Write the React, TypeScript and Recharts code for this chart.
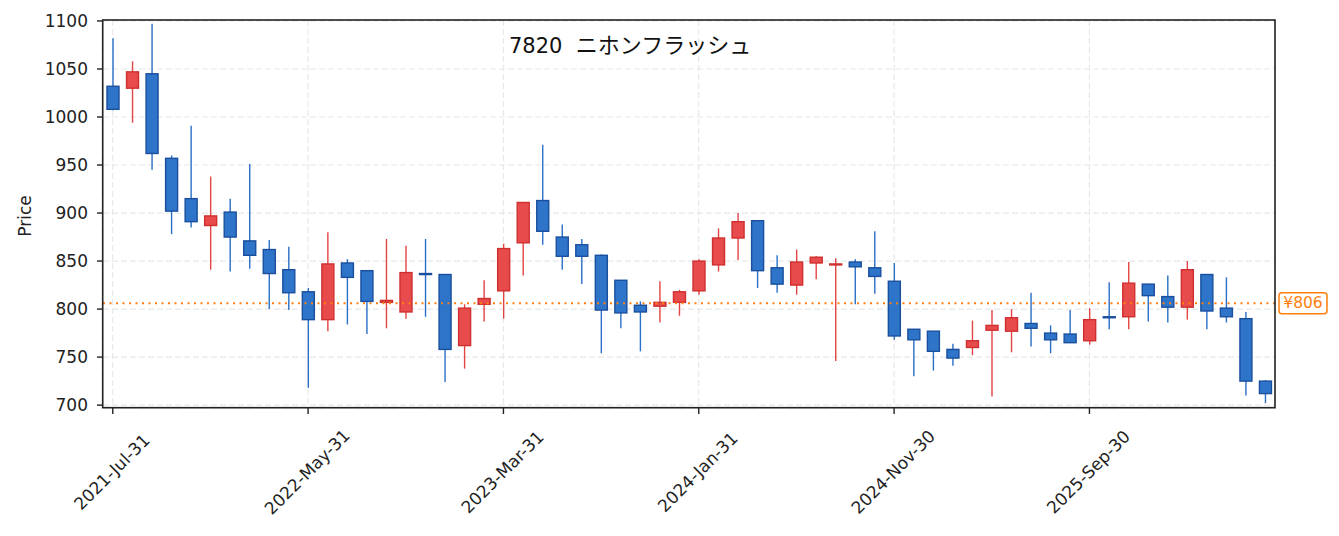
import { Bar, CartesianGrid, ComposedChart, ReferenceLine, XAxis, YAxis } from 'recharts'

// monthly bars, 2021-Jul .. 2026-Jun
const months = [
  '2021-Jul-31', '2021-Aug-31', '2021-Sep-30', '2021-Oct-31', '2021-Nov-30', '2021-Dec-31',
  '2022-Jan-31', '2022-Feb-28', '2022-Mar-31', '2022-Apr-30', '2022-May-31', '2022-Jun-30',
  '2022-Jul-31', '2022-Aug-31', '2022-Sep-30', '2022-Oct-31', '2022-Nov-30', '2022-Dec-31',
  '2023-Jan-31', '2023-Feb-28', '2023-Mar-31', '2023-Apr-30', '2023-May-31', '2023-Jun-30',
  '2023-Jul-31', '2023-Aug-31', '2023-Sep-30', '2023-Oct-31', '2023-Nov-30', '2023-Dec-31',
  '2024-Jan-31', '2024-Feb-29', '2024-Mar-31', '2024-Apr-30', '2024-May-31', '2024-Jun-30',
  '2024-Jul-31', '2024-Aug-31', '2024-Sep-30', '2024-Oct-31', '2024-Nov-30', '2024-Dec-31',
  '2025-Jan-31', '2025-Feb-28', '2025-Mar-31', '2025-Apr-30', '2025-May-31', '2025-Jun-30',
  '2025-Jul-31', '2025-Aug-31', '2025-Sep-30', '2025-Oct-31', '2025-Nov-30', '2025-Dec-31',
  '2026-Jan-31', '2026-Feb-28', '2026-Mar-31', '2026-Apr-30', '2026-May-31', '2026-Jun-30',
]

const opens = [
  1032, 1030, 1045, 957, 915, 887, 901, 871, 862, 841,
  818, 789, 848, 840, 807, 797, 837, 836, 762, 805,
  819, 869, 913, 875, 867, 856, 830, 804, 803, 807,
  819, 846, 874, 892, 843, 825, 848, 846, 849, 843,
  829, 779, 777, 758, 760, 778, 777, 785, 775, 774,
  767, 792, 792, 826, 813, 802, 836, 801, 790, 725,
]
const highs = [
  1082, 1058, 1097, 960, 991, 938, 915, 951, 872, 865,
  822, 880, 852, 840, 873, 866, 873, 836, 805, 830,
  868, 911, 971, 888, 873, 857, 830, 808, 829, 820,
  852, 884, 900, 892, 856, 862, 855, 853, 852, 881,
  848, 779, 777, 764, 788, 799, 800, 817, 783, 799,
  801, 828, 849, 826, 835, 850, 836, 833, 797, 726,
]
const lows = [
  1007, 994, 945, 878, 885, 841, 839, 842, 800, 799,
  718, 777, 784, 774, 780, 790, 792, 724, 738, 787,
  790, 835, 867, 841, 826, 754, 780, 756, 786, 793,
  815, 839, 851, 822, 817, 815, 831, 746, 805, 816,
  768, 730, 736, 741, 752, 709, 755, 761, 754, 765,
  763, 779, 779, 787, 786, 789, 779, 786, 710, 702,
]
const closes = [
  1008, 1047, 962, 902, 891, 897, 875, 856, 837, 817,
  789, 847, 833, 808, 809, 838, 836, 758, 801, 811,
  863, 911, 881, 855, 855, 799, 796, 797, 807, 818,
  850, 874, 891, 840, 826, 849, 854, 847, 844, 834,
  772, 768, 756, 749, 767, 783, 791, 780, 768, 765,
  789, 791, 827, 814, 802, 841, 798, 792, 725, 712,
]

const yTicks = [700, 750, 800, 850, 900, 950, 1000, 1050, 1100]
const refPrice = 806
const code = '7820'
const name = 'ニホンフラッシュ'

const data = months.map((m, i) => ({
  date: m,
  open: opens[i],
  high: highs[i],
  low: lows[i],
  close: closes[i],
}))

const FONT = '"DejaVu Sans", "Noto Sans CJK JP", sans-serif'
const CJK = '"Noto Sans CJK JP", sans-serif'
const UP = { fill: '#e84b4b', edge: '#cf2f2f', wick: '#e34444' }
const DOWN = { fill: '#2e74c8', edge: '#1a4f9e', wick: '#2a6fc6' }

function Candle(props: any) {
  const { x, y, width, height, payload } = props
  const top = Math.min(y, y + height)
  const h = Math.abs(height)
  const { open, close, high, low } = payload
  const toY = (v: number) => top + ((high - v) / (high - low)) * h
  const c = close >= open ? UP : DOWN
  const cx = x + width / 2
  const bTop = toY(Math.max(open, close))
  const bBot = toY(Math.min(open, close))
  return (
    <g>
      <line x1={cx} x2={cx} y1={top} y2={top + h} stroke={c.wick} strokeWidth={1.4} />
      <rect
        x={x}
        y={bTop}
        width={width}
        height={Math.max(bBot - bTop, 1)}
        fill={c.fill}
        stroke={c.edge}
        strokeWidth={1.4}
      />
    </g>
  )
}

function DateTick({ x, y, payload }: any) {
  const cx = x - 1
  const cy = y + 56
  return (
    <text
      x={cx}
      y={cy}
      textAnchor="middle"
      dominantBaseline="central"
      transform={`rotate(-45, ${cx}, ${cy})`}
      fill="#222"
      fontSize={17}
      fontFamily={FONT}
    >
      {payload.value}
    </text>
  )
}

function PriceTag({ viewBox }: any) {
  const bx = viewBox.x + viewBox.width + 4
  const by = viewBox.y
  return (
    <g>
      <rect x={bx} y={by - 10.5} width={48} height={21} rx={3} fill="#fff" stroke="#ff7f0e" strokeWidth={1.5} />
      <text
        x={bx + 24}
        y={by}
        textAnchor="middle"
        dominantBaseline="central"
        fill="#ff7f0e"
        fontSize={15.5}
        fontFamily={FONT}
      >
        ¥{refPrice}
      </text>
    </g>
  )
}

export default function App() {
  return (
    <div style={{ position: 'absolute', left: 0, top: 0, width: 1339, height: 536, background: '#fff' }}>
      <ComposedChart
        width={1339}
        height={536}
        data={data}
        margin={{ top: 20, right: 64, bottom: 0, left: 0 }}
      >
        <CartesianGrid stroke="#e8e8e8" strokeDasharray="6 3" strokeWidth={1.2} />
        <XAxis
          dataKey="date"
          interval={9}
          height={128}
          axisLine={false}
          tickLine={{ stroke: '#222', strokeWidth: 1.4 }}
          tickSize={6}
          tick={<DateTick />}
        />
        <YAxis
          width={103}
          domain={[697, 1101]}
          ticks={yTicks}
          allowDataOverflow
          axisLine={false}
          tickLine={{ stroke: '#222', strokeWidth: 1.4 }}
          tickSize={6}
          tickMargin={9}
          tick={{ fill: '#222', fontSize: 17, fontFamily: FONT }}
        />
        <ReferenceLine
          y={refPrice}
          stroke="#ff7f0e"
          strokeWidth={2}
          strokeDasharray="2 4.5"
          label={<PriceTag />}
        />
        <Bar
          dataKey={(d: any) => [d.low, d.high]}
          barSize={12}
          shape={<Candle />}
          isAnimationActive={false}
        />
      </ComposedChart>
      <svg
        width={1339}
        height={536}
        style={{ position: 'absolute', left: 0, top: 0, pointerEvents: 'none' }}
      >
        <rect x={102.7} y={20} width={1172.3} height={387.7} fill="none" stroke="#222" strokeWidth={1.6} />
        <text x={509} y={52.5} fill="#111" style={{ whiteSpace: 'pre' }}>
          <tspan fontSize={21} fontFamily={FONT}>{code + '  '}</tspan>
          <tspan fontSize={22} fontFamily={CJK}>{name}</tspan>
        </text>
        <text
          x={30.5}
          y={216}
          textAnchor="middle"
          transform="rotate(-90, 30.5, 216)"
          fontSize={17}
          fill="#222"
          fontFamily={FONT}
        >
          Price
        </text>
      </svg>
    </div>
  )
}
